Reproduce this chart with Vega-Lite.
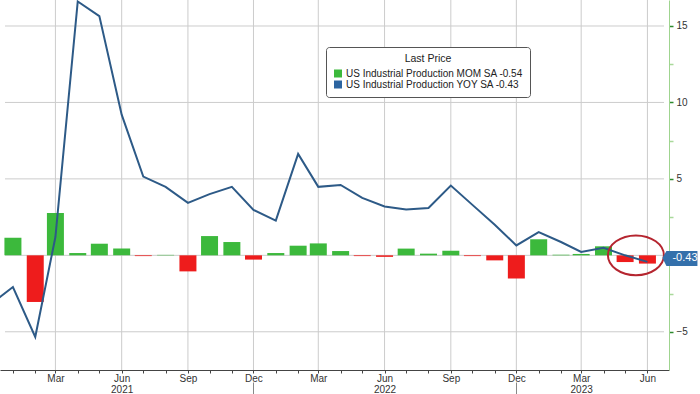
{
  "$schema": "https://vega.github.io/schema/vega-lite/v6.json",
  "width": 669,
  "height": 370,
  "autosize": {"type": "none"},
  "padding": {"left": 0, "top": 0, "right": 31, "bottom": 24},
  "background": "white",
  "config": {
    "view": {"stroke": null},
    "font": "Liberation Sans"
  },
  "datasets": {
    "ip": [
      {"date": "2020-12-01", "mom": null, "yoy": -3.2},
      {"date": "2021-01-01", "mom": 1.15, "yoy": -2.07},
      {"date": "2021-02-01", "mom": -3.05, "yoy": -5.34},
      {"date": "2021-03-01", "mom": 2.77, "yoy": 1.2},
      {"date": "2021-04-01", "mom": 0.15, "yoy": 16.6},
      {"date": "2021-05-01", "mom": 0.76, "yoy": 15.65},
      {"date": "2021-06-01", "mom": 0.44, "yoy": 9.2},
      {"date": "2021-07-01", "mom": -0.05, "yoy": 5.15},
      {"date": "2021-08-01", "mom": 0.03, "yoy": 4.48},
      {"date": "2021-09-01", "mom": -1.05, "yoy": 3.43},
      {"date": "2021-10-01", "mom": 1.26, "yoy": 4.0},
      {"date": "2021-11-01", "mom": 0.87, "yoy": 4.48},
      {"date": "2021-12-01", "mom": -0.28, "yoy": 2.97},
      {"date": "2022-01-01", "mom": 0.15, "yoy": 2.27},
      {"date": "2022-02-01", "mom": 0.63, "yoy": 6.63},
      {"date": "2022-03-01", "mom": 0.78, "yoy": 4.48},
      {"date": "2022-04-01", "mom": 0.28, "yoy": 4.6},
      {"date": "2022-05-01", "mom": -0.05, "yoy": 3.76},
      {"date": "2022-06-01", "mom": -0.1, "yoy": 3.2},
      {"date": "2022-07-01", "mom": 0.44, "yoy": 3.0},
      {"date": "2022-08-01", "mom": 0.11, "yoy": 3.1},
      {"date": "2022-09-01", "mom": 0.3, "yoy": 4.56},
      {"date": "2022-10-01", "mom": -0.05, "yoy": 3.3},
      {"date": "2022-11-01", "mom": -0.33, "yoy": 2.0},
      {"date": "2022-12-01", "mom": -1.52, "yoy": 0.65},
      {"date": "2023-01-01", "mom": 1.05, "yoy": 1.52},
      {"date": "2023-02-01", "mom": 0.04, "yoy": 0.87},
      {"date": "2023-03-01", "mom": 0.09, "yoy": 0.22},
      {"date": "2023-04-01", "mom": 0.59, "yoy": 0.5},
      {"date": "2023-05-01", "mom": -0.44, "yoy": 0.0},
      {"date": "2023-06-01", "mom": -0.54, "yoy": -0.43}
    ],
    "vgrid": [
      {"date": "2021-03-01"}, {"date": "2021-06-01"}, {"date": "2021-09-01"}, {"date": "2021-12-01"},
      {"date": "2022-03-01"}, {"date": "2022-06-01"}, {"date": "2022-09-01"}, {"date": "2022-12-01"},
      {"date": "2023-03-01"}, {"date": "2023-06-01"}
    ],
    "hgrid": [{"g": -5}, {"g": 0}, {"g": 5}, {"g": 10}, {"g": 15}],
    "circle": [{"date": "2023-05-16", "v": 0}],
    "last": [{"date": "2023-06-01", "v": -0.43, "label": "-0.43"}]
  },
  "resolve": {"axis": {"x": "independent"}},
  "layer": [
    {
      "data": {"name": "vgrid"},
      "mark": {"type": "rule", "stroke": "#cccccc", "strokeWidth": 1},
      "encoding": {
        "x": {"field": "date", "type": "temporal", "axis": null},
        "y": {"datum": 16.7, "type": "quantitative"},
        "y2": {"datum": -7.5}
      }
    },
    {
      "data": {"name": "hgrid"},
      "mark": {"type": "rule", "stroke": "#cccccc", "strokeWidth": 1},
      "encoding": {
        "x": {"datum": {"year": 2020, "month": 12, "date": 21, "utc": true}, "type": "temporal", "axis": null},
        "x2": {"datum": {"year": 2023, "month": 6, "date": 24, "utc": true}},
        "y": {"field": "g", "type": "quantitative"}
      }
    },
    {
      "data": {"name": "ip"},
      "mark": {"type": "bar", "size": 17, "clip": true},
      "encoding": {
        "x": {
          "field": "date",
          "type": "temporal",
          "scale": {"type": "utc", "nice": false, "domain": [{"year": 2020, "month": 12, "date": 21, "utc": true}, {"year": 2023, "month": 6, "date": 24, "utc": true}]},
          "axis": {
            "orient": "bottom",
            "title": null,
            "tickCount": "month",
            "labelExpr": "utcmonth(datum.value) % 3 == 2 ? [utcFormat(datum.value, '%b'), ((utcmonth(datum.value) == 5 && utcyear(datum.value) < 2023) || (utcmonth(datum.value) == 2 && utcyear(datum.value) == 2023)) ? utcFormat(datum.value, '%Y') : ''] : ''",
            "labelFlush": false,
            "labelOverlap": false,
            "labelFontSize": 10,
            "labelColor": "#333333",
            "labelPadding": 0,
            "labelLineHeight": 11,
            "domainColor": "#444444",
            "tickColor": "#444444",
            "tickSize": 3,
            "grid": false
          }
        },
        "y": {
          "field": "mom",
          "type": "quantitative",
          "scale": {"domain": [-7.5, 16.7], "nice": false, "zero": false},
          "axis": {
            "orient": "right",
            "title": null,
            "values": [-5, -2.5, 0, 2.5, 5, 7.5, 10, 12.5, 15],
            "labelExpr": "datum.value % 5 == 0 && datum.value != 0 ? datum.label : ''",
            "labelOverlap": false,
            "labelFontSize": 10,
            "labelColor": "#333333",
            "labelPadding": 3,
            "domainColor": "#9fd48f",
            "tickColor": {"condition": {"test": "datum.value % 5 == 0", "value": "#2e8b2e"}, "value": "#a9d99b"},
            "tickSize": 4,
            "tickWidth": 1.5,
            "grid": false
          }
        },
        "color": {
          "condition": {"test": "datum.mom < 0", "value": "#ee1c1c"},
          "datum": "US Industrial Production MOM SA -0.54",
          "type": "nominal",
          "scale": {
            "domain": ["US Industrial Production MOM SA -0.54", "US Industrial Production YOY SA  -0.43"],
            "range": ["#3cb93c", "#2c64a0"]
          },
          "legend": {
            "title": "Last Price",
            "orient": "none",
            "legendX": 326,
            "legendY": 47,
            "direction": "vertical",
            "symbolType": "square",
            "symbolSize": 64,
            "symbolStrokeWidth": 0,
            "labelFontSize": 10,
            "labelLimit": 400,
            "labelColor": "#222222",
            "titleFontSize": 10.5,
            "titleFontWeight": "normal",
            "titleColor": "#222222",
            "titleAnchor": "middle",
            "titlePadding": 4,
            "strokeColor": "#555555",
            "fillColor": "white",
            "padding": 7,
            "cornerRadius": 3,
            "rowPadding": 1,
            "labelOffset": 3
          }
        }
      }
    },
    {
      "data": {"name": "ip"},
      "mark": {"type": "line", "color": "#2d5a87", "strokeWidth": 2, "clip": true},
      "encoding": {
        "x": {"field": "date", "type": "temporal", "axis": null},
        "y": {"field": "yoy", "type": "quantitative"}
      }
    },
    {
      "data": {"name": "circle"},
      "mark": {"type": "point", "shape": "M-1,0 A1,0.71 0 1,1 1,0 A1,0.71 0 1,1 -1,0 Z", "size": 3136, "filled": false, "stroke": "#b5252f", "strokeWidth": 2, "opacity": 1},
      "encoding": {
        "x": {
          "field": "date",
          "type": "temporal",
          "axis": {
            "orient": "bottom",
            "title": null,
            "values": [{"year": 2021, "month": 12, "date": 1, "utc": true}, {"year": 2022, "month": 12, "date": 1, "utc": true}],
            "offset": 12,
            "tickSize": 12,
            "tickColor": "#888888",
            "domain": false,
            "labels": false,
            "grid": false
          }
        },
        "y": {"field": "v", "type": "quantitative"}
      }
    },
    {
      "data": {"name": "last"},
      "mark": {"type": "point", "shape": "M15,-4 L19,-11 L50,-11 L50,4 L19,4 Z", "size": 4, "filled": true, "fill": "#3470ab", "strokeWidth": 0, "opacity": 1},
      "encoding": {
        "x": {"field": "date", "type": "temporal", "axis": null},
        "y": {"field": "v", "type": "quantitative"}
      }
    },
    {
      "data": {"name": "last"},
      "mark": {"type": "text", "align": "left", "baseline": "middle", "dx": 25, "dy": -3.5, "color": "white", "fontSize": 11},
      "encoding": {
        "x": {"field": "date", "type": "temporal", "axis": null},
        "y": {"field": "v", "type": "quantitative"},
        "text": {"field": "label"}
      }
    }
  ]
}
